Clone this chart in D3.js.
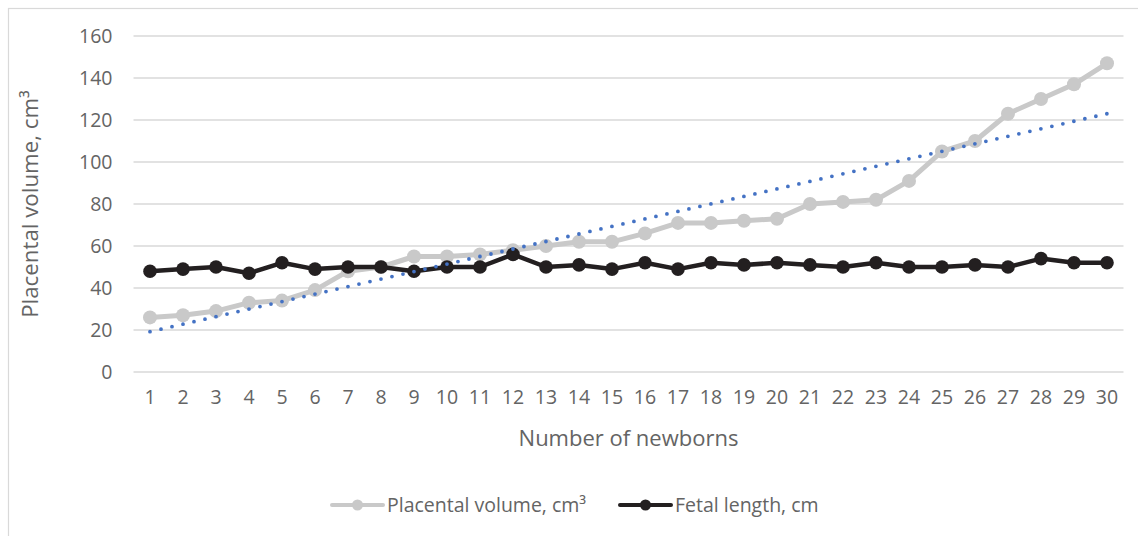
<!DOCTYPE html>
<html>
<head>
<meta charset="utf-8">
<script src="https://cdn.jsdelivr.net/npm/d3@7/dist/d3.min.js"></script>
<style>
  html, body { margin: 0; padding: 0; background: #fff; }
  svg { display: block; }
  text { font-family: "Open Sans", "Noto Sans", sans-serif; fill: #646464; }
</style>
</head>
<body>
<svg id="chart" width="1138" height="536"></svg>
<script>
// Newborn index 1..30
const newborns = d3.range(1, 31);

// Placental volume, cm³
const placentalVolume = [26, 27, 29, 33, 34, 39, 48, 50, 55, 55,
                         56, 58, 60, 62, 62, 66, 71, 71, 72, 73,
                         80, 81, 82, 91, 105, 110, 123, 130, 137, 147];

// Fetal length, cm
const fetalLength = [48, 49, 50, 47, 52, 49, 50, 50, 48, 50,
                     50, 56, 50, 51, 49, 52, 49, 52, 51, 52,
                     51, 50, 52, 50, 50, 51, 50, 54, 52, 52];

const yTicks = [0, 20, 40, 60, 80, 100, 120, 140, 160];

const seriesNames = ["Placental volume, cm³", "Fetal length, cm"];
const seriesColors = ["#c9c9c9", "#231f20"];

const svg = d3.select("#chart");

// chart area frame
svg.append("rect")
  .attr("x", 8.5).attr("y", 8.5)
  .attr("width", 1140).attr("height", 540)
  .attr("fill", "none").attr("stroke", "#d9d9d9").attr("stroke-width", 1.2);

const plot = { left: 133.5, right: 1123.5, top: 36, bottom: 372 };

const x = d3.scaleBand().domain(newborns).range([plot.left, plot.right]);
const cx = d => x(d) + x.bandwidth() / 2;
const y = d3.scaleLinear().domain([0, 160]).range([plot.bottom, plot.top]);

// horizontal gridlines
svg.append("g")
  .selectAll("line")
  .data(yTicks)
  .join("line")
  .attr("x1", plot.left).attr("x2", plot.right)
  .attr("y1", d => y(d)).attr("y2", d => y(d))
  .attr("stroke", "#d9d9d9").attr("stroke-width", 1.3);

// y axis labels
const yAxis = svg.append("g")
  .attr("transform", `translate(${plot.left - 21},0)`)
  .call(d3.axisLeft(y).tickValues(yTicks).tickSize(0).tickPadding(0));
yAxis.select(".domain").remove();
yAxis.selectAll("text")
  .attr("font-size", 19.5)
  .attr("fill", "#646464")
  .attr("font-family", "'Open Sans', sans-serif");

// x axis labels
const xAxis = svg.append("g")
  .attr("transform", `translate(0,${plot.bottom + 18})`)
  .call(d3.axisBottom(x).tickSize(0).tickPadding(0));
xAxis.select(".domain").remove();
xAxis.selectAll("text")
  .attr("font-size", 19.5)
  .attr("fill", "#646464")
  .attr("font-family", "'Open Sans', sans-serif");

// axis titles
svg.append("text")
  .attr("x", (plot.left + plot.right) / 2)
  .attr("y", 446)
  .attr("text-anchor", "middle")
  .attr("font-size", 22)
  .text("Number of newborns");

svg.append("text")
  .attr("transform", `translate(38,${(plot.top + plot.bottom) / 2}) rotate(-90)`)
  .attr("text-anchor", "middle")
  .attr("font-size", 22.3)
  .text("Placental volume, cm³");

// linear trend of placental volume (least squares)
const n = newborns.length;
const mx = d3.mean(newborns), my = d3.mean(placentalVolume);
const slope = d3.sum(newborns, (d, i) => (d - mx) * (placentalVolume[i] - my)) /
              d3.sum(newborns, d => (d - mx) * (d - mx));
const intercept = my - slope * mx;
const trend = [newborns[0], newborns[n - 1]].map(d => [d, intercept + slope * d]);

const line = d3.line().x(d => cx(d[0])).y(d => y(d[1]));

function drawSeries(values, color, width, r) {
  const pts = newborns.map((d, i) => [d, values[i]]);
  svg.append("path")
    .attr("d", line(pts))
    .attr("fill", "none")
    .attr("stroke", color)
    .attr("stroke-width", width)
    .attr("stroke-linejoin", "round");
  svg.append("g")
    .selectAll("circle")
    .data(pts)
    .join("circle")
    .attr("cx", d => cx(d[0]))
    .attr("cy", d => y(d[1]))
    .attr("r", r)
    .attr("fill", color);
}

drawSeries(placentalVolume, seriesColors[0], 5, 7);
drawSeries(fetalLength, seriesColors[1], 4.5, 6.8);

// dotted trendline
svg.append("path")
  .attr("d", line(trend))
  .attr("fill", "none")
  .attr("stroke", "#4472c4")
  .attr("stroke-width", 3.8)
  .attr("stroke-linecap", "round")
  .attr("stroke-dasharray", "0 11.28");

// legend
const legendItems = [
  { name: seriesNames[0], color: seriesColors[0], x0: 332 },
  { name: seriesNames[1], color: seriesColors[1], x0: 620 }
];
const legendY = 505;
const lg = svg.append("g").selectAll("g").data(legendItems).join("g")
  .attr("transform", d => `translate(${d.x0},${legendY})`);
lg.append("line")
  .attr("x1", 0).attr("x2", 51).attr("y1", 0).attr("y2", 0)
  .attr("stroke", d => d.color).attr("stroke-width", 4)
  .attr("stroke-linecap", "round");
lg.append("circle")
  .attr("cx", 25.5).attr("cy", 0).attr("r", 5.5)
  .attr("fill", d => d.color);
lg.append("text")
  .attr("x", 55).attr("y", 0)
  .attr("dy", "0.35em")
  .attr("font-size", 19.5)
  .text(d => d.name);
</script>
</body>
</html>
